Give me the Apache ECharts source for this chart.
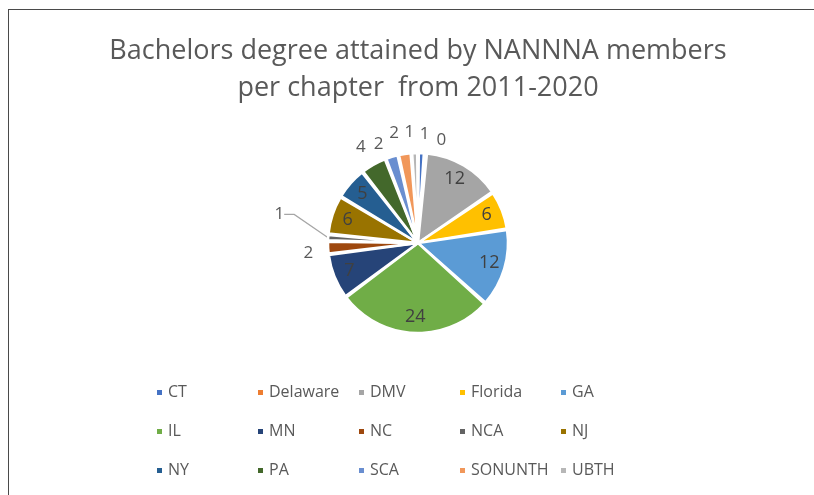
<!DOCTYPE html>
<html>
<head>
<meta charset="utf-8">
<script src="https://cdn.jsdelivr.net/npm/echarts@6/dist/echarts.min.js"></script>
<style>
  html, body { margin: 0; padding: 0; background: #fff; }
  #frame { position: absolute; left: 8px; top: 9px; width: 806px; height: 486px;
           border-left: 1px solid #4a4a4a; border-top: 1px solid #4a4a4a; }
  #main { position: absolute; left: 0; top: 0; width: 814px; height: 495px; }
</style>
</head>
<body>
<div id="frame"></div>
<div id="main"></div>
<script>
// chapters, clockwise from 12 o'clock
var chapters = ['CT', 'Delaware', 'DMV', 'Florida', 'GA', 'IL', 'MN', 'NC', 'NCA', 'NJ', 'NY', 'PA', 'SCA', 'SONUNTH', 'UBTH'];
var degrees = [1, 0, 12, 6, 12, 24, 7, 2, 1, 6, 5, 4, 2, 2, 1];
var colors = ['#4472C4', '#ED7D31', '#A5A5A5', '#FFC000', '#5B9BD5', '#70AD47', '#264478', '#9E480E',
              '#636363', '#997300', '#255E91', '#43682B', '#698ED0', '#F1975A', '#B7B7B7'];

var font = '"Open Sans", "Liberation Sans", sans-serif';
var center = [418, 243];
var R = 90;

var chart = echarts.init(document.getElementById('main'));

// small slices: label outside; big slices: label drawn by overlay ring
var mainData = chapters.map(function (name, i) {
  var small = degrees[i] < 5;
  var item = {
    name: name,
    value: degrees[i],
    label: { show: small },
    labelLine: { show: false, length: 12, length2: 2 }
  };
  if (name === 'NCA') {
    item.labelLine = { show: true, length: 20, length2: 10 };
  }
  return item;
});
var overlayData = chapters.map(function (name, i) {
  return { name: name, value: degrees[i], label: { show: degrees[i] >= 5 } };
});

// small nudges so the crowded outside labels spread like Excel's best fit
var nudge = {
  PA: [5, -7], SCA: [2, -1], SONUNTH: [3, -9], UBTH: [7, -9],
  CT: [-9, -7], Delaware: [3, -1], NC: [4, 5]
};

var option = {
  color: colors,
  title: {
    text: 'Bachelors degree attained by NANNNA members\nper chapter  from 2011-2020',
    left: 413,
    textAlign: 'center',
    top: 28,
    textStyle: { fontFamily: font, fontSize: 27, fontWeight: 'normal', color: '#595959', lineHeight: 37 }
  },
  legend: {
    left: 150,
    top: 373,
    width: 520,
    itemWidth: 7,
    itemHeight: 7,
    itemGap: 10,
    icon: 'rect',
    selectedMode: false,
    textStyle: { fontFamily: font, fontSize: 16, color: '#595959', width: 78, lineHeight: 29 },
    data: chapters
  },
  series: [
    {
      type: 'pie',
      center: center,
      radius: [0, R],
      startAngle: 90,
      clockwise: true,
      padAngle: 1,
      avoidLabelOverlap: false,
      itemStyle: { borderColor: '#fff', borderWidth: 2.5 },
      label: {
        position: 'outside',
        formatter: '{c}',
        color: '#595959',
        fontFamily: font,
        fontSize: 17
      },
      labelLine: { lineStyle: { color: '#A6A6A6', width: 1.2 } },
      labelLayout: function (params) {
        var name = chapters[params.dataIndex];
        var r = params.labelRect;
        if (name === 'NCA') {
          // lift it above NC; setting x/y makes the leader line follow
          return { x: r.x + r.width - 9, y: r.y + r.height / 2 - 22 };
        }
        if (nudge[name]) {
          return { dx: nudge[name][0], dy: nudge[name][1] };
        }
      },
      emphasis: { disabled: true },
      data: mainData
    },
    {
      type: 'pie',
      center: center,
      radius: [R * 0.58, R],
      startAngle: 90,
      clockwise: true,
      silent: true,
      itemStyle: { color: 'transparent' },
      label: {
        position: 'inside',
        formatter: '{c}',
        color: '#404040',
        fontFamily: font,
        fontSize: 18
      },
      labelLine: { show: false },
      data: overlayData
    }
  ]
};

chart.setOption(option);
</script>
</body>
</html>
